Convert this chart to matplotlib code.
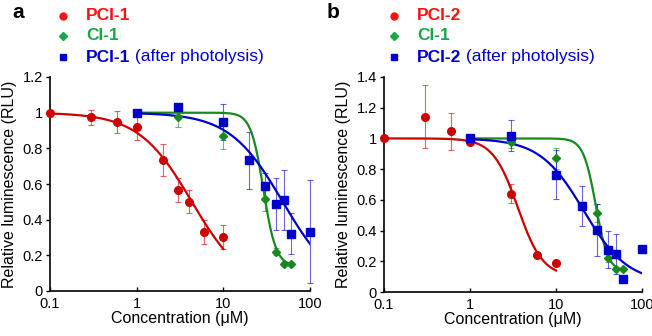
import numpy as np
import matplotlib
matplotlib.use("Agg")
import matplotlib.pyplot as plt
from matplotlib.ticker import FuncFormatter

plt.rcParams['font.family'] = ['Liberation Sans', 'DejaVu Sans']

# panel a
conc_red_a = [0.1, 0.3, 0.6, 1, 2, 3, 4, 6, 10]
lum_red_a = [1.0, 0.974, 0.948, 0.921, 0.733, 0.566, 0.501, 0.329, 0.301]
err_red_a = [0, 0.042, 0.064, 0.073, 0.089, 0.065, 0.064, 0.068, 0.067]
conc_green = [1, 3, 10, 30, 40, 50, 60]
lum_green_a = [1.0, 0.978, 0.869, 0.516, 0.22, 0.15, 0.15]
err_green_a = [0, 0.056, 0.07, 0.07, 0.02, 0.01, 0.01]
conc_blue = [1, 3, 10, 20, 30, 40, 50, 60, 100]
lum_blue_a = [1.0, 1.03, 0.946, 0.733, 0.589, 0.486, 0.51, 0.32, 0.333]
err_blue_a = [0, 0.02, 0.1, 0.16, 0.075, 0.145, 0.17, 0.115, 0.29]

# panel b
conc_red_b = [0.1, 0.3, 0.6, 1, 3, 6, 10]
lum_red_b = [1.0, 1.14, 1.046, 0.978, 0.641, 0.243, 0.191]
err_red_b = [0, 0.205, 0.12, 0.01, 0.06, 0.01, 0.01]
lum_green_b = [1.0, 0.978, 0.87, 0.513, 0.224, 0.152, 0.152]
err_green_b = [0, 0.04, 0.07, 0.06, 0.03, 0.01, 0.01]
lum_blue_b = [1.0, 1.017, 0.765, 0.557, 0.402, 0.274, 0.25, 0.083, 0.278]
err_blue_b = [0, 0.1, 0.16, 0.13, 0.17, 0.12, 0.13, 0.02, 0.02]

# fitted dose-response parameters (top, bottom, IC50, hill)
fit_red_a = (1.0, 0.0, 4.34, 1.41)
fit_green_a = (1.0, 0.14, 29.0, 6.0)
fit_blue_a = (1.0, 0.0, 48.5, 1.415)
fit_red_b = (1.0, 0.1, 3.6, 3.0)
fit_green_b = (1.0, 0.13, 29.0, 6.0)
fit_blue_b = (1.0, 0.06, 21.0, 1.7)

red = '#CC0000'
green = '#178A1E'
blue = '#0000CC'
red_txt = '#FF1010'
green_txt = '#16A845'
blue_txt = '#0000B8'


def logistic(x, p):
    top, bottom, ic50, hill = p
    return bottom + (top - bottom) / (1 + (x / ic50) ** hill)


fig = plt.figure(figsize=(6.52, 3.36), dpi=100)
ax1 = fig.add_axes([50 / 652, 45 / 336, 260 / 652, 214 / 336])
ax2 = fig.add_axes([384 / 652, 44 / 336, 258 / 652, 215 / 336])

panels = [
    (ax1, 1.2, [(conc_red_a, lum_red_a, err_red_a, fit_red_a, red, 'o', 5.5),
                (conc_green, lum_green_a, err_green_a, fit_green_a, green, 'D', 4.2),
                (conc_blue, lum_blue_a, err_blue_a, fit_blue_a, blue, 's', 5.5)]),
    (ax2, 1.4, [(conc_red_b, lum_red_b, err_red_b, fit_red_b, red, 'o', 5.5),
                (conc_green, lum_green_b, err_green_b, fit_green_b, green, 'D', 4.2),
                (conc_blue, lum_blue_b, err_blue_b, fit_blue_b, blue, 's', 5.5)]),
]

for ax, ymax, series in panels:
    for x, y, e, fit, c, m, ms in series:
        eb = ax.errorbar(x, y, yerr=e, fmt='none', ecolor=c, elinewidth=0.8,
                         capsize=2, capthick=0.8, alpha=0.6, zorder=2)
        for art in eb.lines[1] + eb.lines[2]:
            art.set_clip_on(False)
        xs = np.logspace(np.log10(x[0]), np.log10(x[-1]), 200)
        ax.plot(xs, logistic(xs, fit), color=c, lw=1.6, zorder=3)
        ax.plot(x, y, m, color=c, ms=ms, zorder=4, clip_on=False)
    ax.set_xscale('log')
    ax.set_xlim(0.1, 100)
    ax.set_ylim(0, ymax)
    ax.set_yticks(np.arange(0, ymax + 0.01, 0.2))
    ax.set_xticks([0.1, 1, 10, 100])
    ax.xaxis.set_major_formatter(FuncFormatter(lambda v, p: '%g' % v))
    ax.yaxis.set_major_formatter(FuncFormatter(lambda v, p: '%g' % round(v, 1)))
    ax.minorticks_off()
    ax.spines['top'].set_visible(False)
    ax.spines['right'].set_visible(False)
    ax.spines['left'].set_linewidth(1.2)
    ax.spines['bottom'].set_linewidth(1.2)
    ax.tick_params(axis='y', direction='out', length=3, width=1, labelsize=10.5, pad=2)
    ax.tick_params(axis='x', direction='in', length=3, width=1, labelsize=10.5, pad=4)
    ax.set_xlabel('Concentration (\u03bcM)', fontsize=11.5, labelpad=0)
    ax.set_ylabel('Relative luminescence (RLU)', fontsize=11.5, labelpad=4)

# panel letters
fig.text(12 / 652, 1 - 13 / 336, 'a', fontsize=15, fontweight='bold', va='center')
fig.text(327 / 652, 1 - 12 / 336, 'b', fontsize=15, fontweight='bold', va='center')

# legends
renderer = fig.canvas.get_renderer()
legends = [
    (63, 86, 'PCI-1'),
    (394, 417, 'PCI-2'),
]
for mx, tx, name in legends:
    rows = [(16, 'o', red_txt, 5, name, None),
            (36, 'D', green_txt, 3.8, 'CI-1', None),
            (57, 's', blue, 4.5, name, ' (after photolysis)')]
    for yy, m, tc, ms, bold_txt, extra in rows:
        fig.add_artist(plt.Line2D([mx / 652], [1 - yy / 336], marker=m, color=tc,
                                  ms=ms, lw=0, transform=fig.transFigure))
        t = fig.text(tx / 652, 1 - yy / 336, bold_txt, color=tc, fontsize=12.5,
                     fontweight='bold', va='center')
        if extra:
            bb = t.get_window_extent(renderer)
            fig.text(bb.x1 / 652, 1 - yy / 336, extra, color=tc, fontsize=12.5,
                     va='center')

fig.savefig('out.png', dpi=100)
